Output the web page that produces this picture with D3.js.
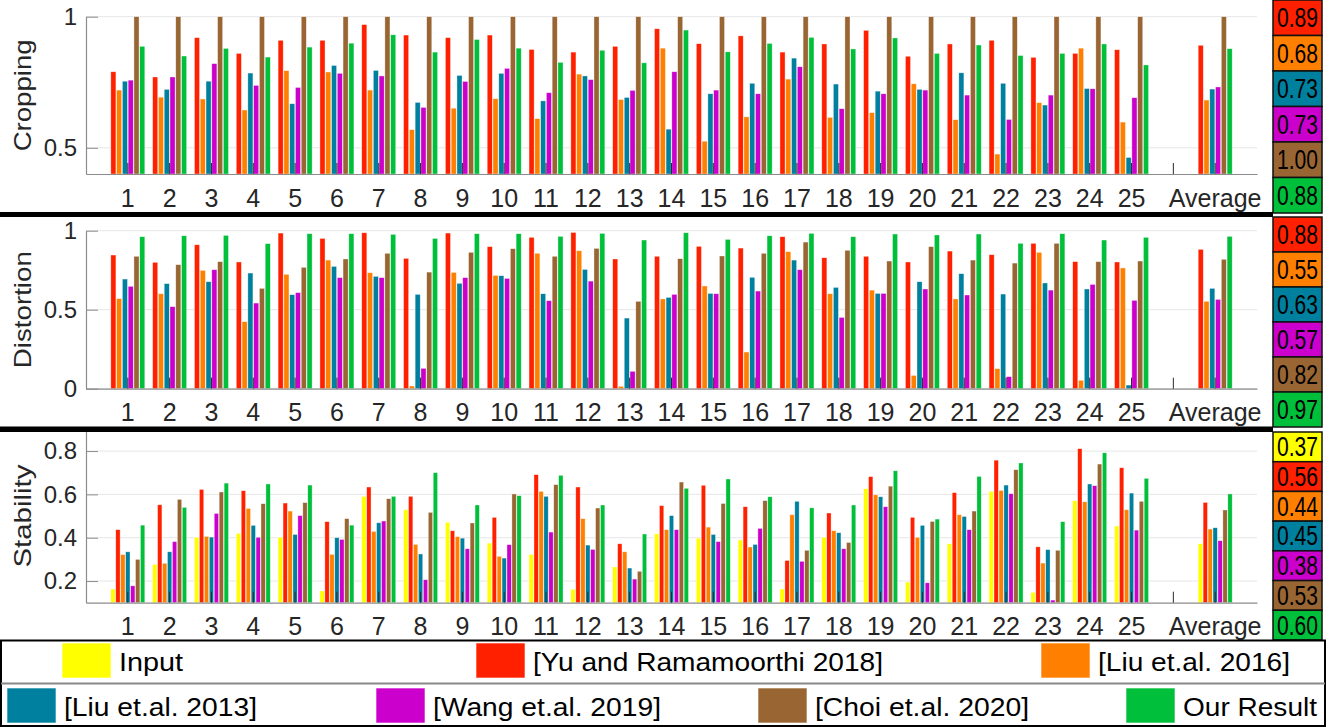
<!DOCTYPE html>
<html>
<head>
<meta charset="utf-8">
<script src="https://cdn.jsdelivr.net/npm/d3@7.9.0/dist/d3.min.js"></script>
<style>
  body { margin: 0; background: #fff; }
  svg { display: block; font-family: "Liberation Sans", Arial, sans-serif; }
</style>
</head>
<body>
<svg id="chart" width="1330" height="727"></svg>
<script>
// categories (one empty slot before the average, as in the original)
const categories = ['1','2','3','4','5','6','7','8','9','10','11','12','13','14','15','16','17','18','19','20','21','22','23','24','25','gap','Average'];

const seriesKeys = ['input', 'yu', 'liu16', 'liu13', 'wang', 'choi', 'ours'];
const seriesNames = ['Input', '[Yu and Ramamoorthi 2018]', '[Liu et.al. 2016]', '[Liu et.al. 2013]', '[Wang et.al. 2019]', '[Choi et.al. 2020]', 'Our Result'];
const seriesColors = ['#ffff00', '#ff2000', '#ff8000', '#00809f', '#cc00cc', '#996633', '#00bf3a'];

// values: videos 1..25, last entry = average
const croppingYu    = [0.79,0.77,0.92,0.86,0.91,0.91,0.97,0.93,0.92,0.93,0.875,0.865,0.887,0.954,0.897,0.927,0.865,0.896,0.948,0.849,0.896,0.91,0.845,0.86,0.874, 0.891];
const croppingLiu16 = [0.72,0.693,0.686,0.644,0.794,0.789,0.72,0.569,0.651,0.687,0.611,0.781,0.684,0.88,0.525,0.618,0.762,0.616,0.634,0.744,0.607,0.476,0.672,0.88,0.598, 0.682];
const croppingLiu13 = [0.754,0.723,0.754,0.785,0.668,0.814,0.795,0.673,0.776,0.784,0.679,0.774,0.692,0.571,0.706,0.746,0.842,0.743,0.716,0.723,0.786,0.746,0.663,0.726,0.463, 0.724];
const croppingWang  = [0.758,0.77,0.821,0.738,0.73,0.784,0.774,0.654,0.753,0.803,0.71,0.76,0.719,0.79,0.72,0.706,0.809,0.649,0.706,0.72,0.701,0.608,0.701,0.725,0.691, 0.732];
const croppingChoi  = [1,1,1,1,1,1,1,1,1,1,1,1,1,1,1,1,1,1,1,1,1,1,1,1,1, 1];
const croppingOurs  = [0.887,0.85,0.879,0.846,0.884,0.899,0.931,0.865,0.913,0.88,0.826,0.872,0.824,0.949,0.866,0.898,0.921,0.877,0.919,0.86,0.892,0.852,0.86,0.896,0.816, 0.878];

const distortionYu    = [0.846,0.8,0.911,0.802,0.985,0.951,0.987,0.825,0.985,0.899,0.958,0.989,0.821,0.838,0.901,0.89,0.962,0.829,0.838,0.802,0.871,0.848,0.92,0.804,0.802, 0.882];
const distortionLiu16 = [0.57,0.601,0.749,0.424,0.724,0.814,0.734,0.017,0.736,0.717,0.857,0.873,0.015,0.568,0.65,0.232,0.867,0.601,0.624,0.084,0.568,0.127,0.863,0.053,0.764, 0.553];
const distortionLiu13 = [0.694,0.665,0.677,0.732,0.595,0.774,0.711,0.597,0.667,0.715,0.601,0.755,0.447,0.578,0.603,0.705,0.814,0.641,0.603,0.677,0.728,0.599,0.669,0.631,0.023, 0.635];
const distortionWang  = [0.648,0.519,0.753,0.542,0.608,0.703,0.703,0.129,0.703,0.698,0.557,0.681,0.11,0.597,0.601,0.618,0.753,0.451,0.603,0.631,0.593,0.076,0.624,0.66,0.559, 0.565];
const distortionChoi  = [0.838,0.785,0.804,0.635,0.768,0.821,0.857,0.738,0.863,0.886,0.838,0.888,0.553,0.823,0.84,0.857,0.928,0.876,0.808,0.899,0.814,0.795,0.92,0.804,0.808, 0.819];
const distortionOurs  = [0.962,0.968,0.97,0.918,0.981,0.981,0.977,0.951,0.981,0.981,0.964,0.983,0.941,0.987,0.945,0.968,0.983,0.962,0.979,0.973,0.979,0.92,0.981,0.941,0.958, 0.964];

const stabilityInput = [0.163,0.277,0.402,0.42,0.402,0.154,0.591,0.529,0.471,0.375,0.323,0.162,0.265,0.418,0.398,0.389,0.163,0.402,0.626,0.195,0.372,0.614,0.148,0.571,0.454, 0.372];
const stabilityYu    = [0.437,0.552,0.623,0.617,0.56,0.474,0.634,0.591,0.432,0.494,0.691,0.634,0.372,0.548,0.642,0.543,0.295,0.514,0.682,0.494,0.608,0.758,0.358,0.811,0.723, 0.563];
const stabilityLiu16 = [0.322,0.282,0.406,0.535,0.523,0.323,0.429,0.369,0.405,0.314,0.614,0.488,0.335,0.437,0.449,0.357,0.506,0.432,0.598,0.402,0.506,0.618,0.283,0.566,0.529, 0.44];
const stabilityLiu13 = [0.335,0.335,0.403,0.457,0.415,0.4,0.469,0.325,0.398,0.306,0.591,0.366,0.26,0.502,0.415,0.369,0.568,0.423,0.589,0.457,0.498,0.643,0.345,0.648,0.606, 0.446];
const stabilityWang  = [0.178,0.382,0.512,0.402,0.502,0.392,0.477,0.206,0.349,0.368,0.426,0.346,0.209,0.437,0.382,0.443,0.291,0.349,0.543,0.192,0.437,0.603,0.112,0.64,0.435, 0.386];
const stabilityChoi  = [0.3,0.577,0.611,0.557,0.562,0.488,0.58,0.517,0.468,0.602,0.645,0.537,0.245,0.657,0.558,0.571,0.342,0.378,0.638,0.475,0.523,0.714,0.342,0.74,0.568, 0.528];
const stabilityOurs  = [0.458,0.54,0.652,0.648,0.643,0.458,0.591,0.7,0.551,0.594,0.688,0.551,0.417,0.628,0.671,0.589,0.538,0.551,0.709,0.486,0.683,0.745,0.474,0.792,0.674, 0.602];

// summary boxes on the right
const croppingSummary   = ['0.89', '0.68', '0.73', '0.73', '1.00', '0.88'];
const distortionSummary = ['0.88', '0.55', '0.63', '0.57', '0.82', '0.97'];
const stabilitySummary  = ['0.37', '0.56', '0.44', '0.45', '0.38', '0.53', '0.60'];

const colorOf = d3.scaleOrdinal(seriesKeys, seriesColors);

const panels = [
  { label: 'Cropping', labelLen: 112, keys: seriesKeys.slice(1),
    values: [croppingYu, croppingLiu16, croppingLiu13, croppingWang, croppingChoi, croppingOurs],
    summary: croppingSummary, domain: [0.4, 1], ticks: [0.5, 1],
    top: 16.7, bottom: 174, boxTop: 0, boxBottom: 213 },
  { label: 'Distortion', labelLen: 117, keys: seriesKeys.slice(1),
    values: [distortionYu, distortionLiu16, distortionLiu13, distortionWang, distortionChoi, distortionOurs],
    summary: distortionSummary, domain: [0, 1], ticks: [0, 0.5, 1],
    top: 230.7, bottom: 388.7, boxTop: 217, boxBottom: 427 },
  { label: 'Stability', labelLen: 103, keys: seriesKeys,
    values: [stabilityInput, stabilityYu, stabilityLiu16, stabilityLiu13, stabilityWang, stabilityChoi, stabilityOurs],
    summary: stabilitySummary, domain: [0.1, 0.9], ticks: [0.2, 0.4, 0.6, 0.8],
    top: 429.4, bottom: 602.7, boxTop: 432, boxBottom: 640 }
];

const svg = d3.select('#chart');
const plotLeft = 86, plotRight = 1257;

const xScale = d3.scaleBand()
  .domain(categories)
  .range([plotLeft, plotRight])
  .paddingInner(0)
  .paddingOuter(0.5);

panels.forEach(p => {
  const g = svg.append('g');
  const yScale = d3.scaleLinear().domain(p.domain).range([p.bottom, p.top]);
  const inner = d3.scaleBand().domain(p.keys).range([-17, 17]).paddingInner(0.12);

  // gridlines
  g.append('g').selectAll('line')
    .data(p.ticks)
    .join('line')
    .attr('x1', plotLeft).attr('x2', plotRight)
    .attr('y1', d => yScale(d)).attr('y2', d => yScale(d))
    .attr('stroke', '#e6e6e6')
    .attr('stroke-width', 1);

  // bars
  const rows = [];
  p.keys.forEach((k, si) => {
    p.values[si].forEach((v, i) => {
      rows.push({ key: k, cat: i < 25 ? categories[i] : 'Average', value: v });
    });
  });

  g.append('g').selectAll('rect')
    .data(rows)
    .join('rect')
    .attr('x', d => xScale(d.cat) + xScale.bandwidth() / 2 + inner(d.key))
    .attr('y', d => yScale(d.value))
    .attr('width', inner.bandwidth())
    .attr('height', d => yScale(p.domain[0]) - yScale(d.value))
    .attr('fill', d => colorOf(d.key))
    .attr('stroke', '#ffffff')
    .attr('stroke-opacity', 0.6)
    .attr('stroke-width', 0.6);

  // x axis (ticks pointing in)
  const xAxis = g.append('g')
    .attr('transform', `translate(0,${p.bottom})`)
    .call(d3.axisBottom(xScale)
      .tickSizeInner(-11)
      .tickSizeOuter(0)
      .tickPadding(15)
      .tickFormat(d => d === 'gap' ? '' : d));
  xAxis.select('.domain').attr('stroke', '#8c8c8c').attr('stroke-width', 1.2);
  xAxis.selectAll('.tick line').attr('stroke', '#2a2a2a').attr('stroke-width', 1);
  xAxis.selectAll('.tick text')
    .attr('font-size', 25)
    .attr('fill', '#262626')
    .attr('font-family', '"Liberation Sans", Arial, sans-serif');

  // y axis
  const yAxis = g.append('g')
    .attr('transform', `translate(${plotLeft},0)`)
    .call(d3.axisLeft(yScale)
      .tickValues(p.ticks)
      .tickSizeInner(-12)
      .tickSizeOuter(0)
      .tickPadding(9)
      .tickFormat(d3.format('~g')));
  yAxis.select('.domain').attr('stroke', '#8c8c8c').attr('stroke-width', 1.2);
  yAxis.selectAll('.tick line').attr('stroke', '#8c8c8c');
  yAxis.selectAll('.tick text')
    .attr('font-size', 24)
    .attr('fill', '#262626')
    .attr('font-family', '"Liberation Sans", Arial, sans-serif');

  // y label
  const cy = (p.top + p.bottom) / 2;
  g.append('text')
    .attr('transform', `translate(31,${cy}) rotate(-90)`)
    .attr('text-anchor', 'middle')
    .attr('font-size', 24)
    .attr('fill', '#262626')
    .attr('textLength', p.labelLen)
    .attr('lengthAdjust', 'spacingAndGlyphs')
    .text(p.label);

  // summary boxes
  const boxH = (p.boxBottom - p.boxTop) / p.keys.length;
  const boxes = g.append('g').selectAll('g')
    .data(p.keys.map((k, i) => ({ key: k, text: p.summary[i], i })))
    .join('g')
    .attr('transform', d => `translate(1273,${p.boxTop + d.i * boxH})`);
  boxes.append('rect')
    .attr('width', 49)
    .attr('height', boxH)
    .attr('fill', d => colorOf(d.key))
    .attr('stroke', '#111')
    .attr('stroke-width', 1.5);
  boxes.append('text')
    .attr('x', 24.5)
    .attr('y', boxH / 2 + 9.5)
    .attr('text-anchor', 'middle')
    .attr('font-size', 27)
    .attr('fill', '#000')
    .attr('textLength', 41)
    .attr('lengthAdjust', 'spacingAndGlyphs')
    .text(d => d.text);
});

// thick separators between panels
svg.append('rect').attr('x', 0).attr('y', 212).attr('width', 1273).attr('height', 5).attr('fill', '#000');
svg.append('rect').attr('x', 0).attr('y', 426.5).attr('width', 1273).attr('height', 5.5).attr('fill', '#000');

// legend
const legend = svg.append('g');
legend.append('rect')
  .attr('x', 1).attr('y', 640.5)
  .attr('width', 1324).attr('height', 85.5)
  .attr('fill', '#fff')
  .attr('stroke', '#000')
  .attr('stroke-width', 2);
legend.append('line')
  .attr('x1', 1).attr('x2', 1325)
  .attr('y1', 683.5).attr('y2', 683.5)
  .attr('stroke', '#888')
  .attr('stroke-width', 2);

const legendX = [62, 476, 1041, 7, 376, 758, 1126];
const legendRow = [0, 0, 0, 1, 1, 1, 1];
const legendLen = [64, 350, 192, 193, 228, 214, 134];
const items = legend.selectAll('g.item')
  .data(seriesKeys.map((k, i) => ({ key: k, name: seriesNames[i], x: legendX[i], row: legendRow[i], len: legendLen[i] })))
  .join('g')
  .attr('class', 'item')
  .attr('transform', d => `translate(${d.x},${d.row ? 688 : 643})`);
items.append('rect')
  .attr('width', 49)
  .attr('height', 35)
  .attr('fill', d => colorOf(d.key))
  .attr('stroke', '#fff')
  .attr('stroke-opacity', 0.6);
items.append('text')
  .attr('x', 57)
  .attr('y', 28)
  .attr('font-size', 26)
  .attr('fill', '#000')
  .attr('textLength', d => d.len)
  .attr('lengthAdjust', 'spacingAndGlyphs')
  .text(d => d.name);
</script>
</body>
</html>
